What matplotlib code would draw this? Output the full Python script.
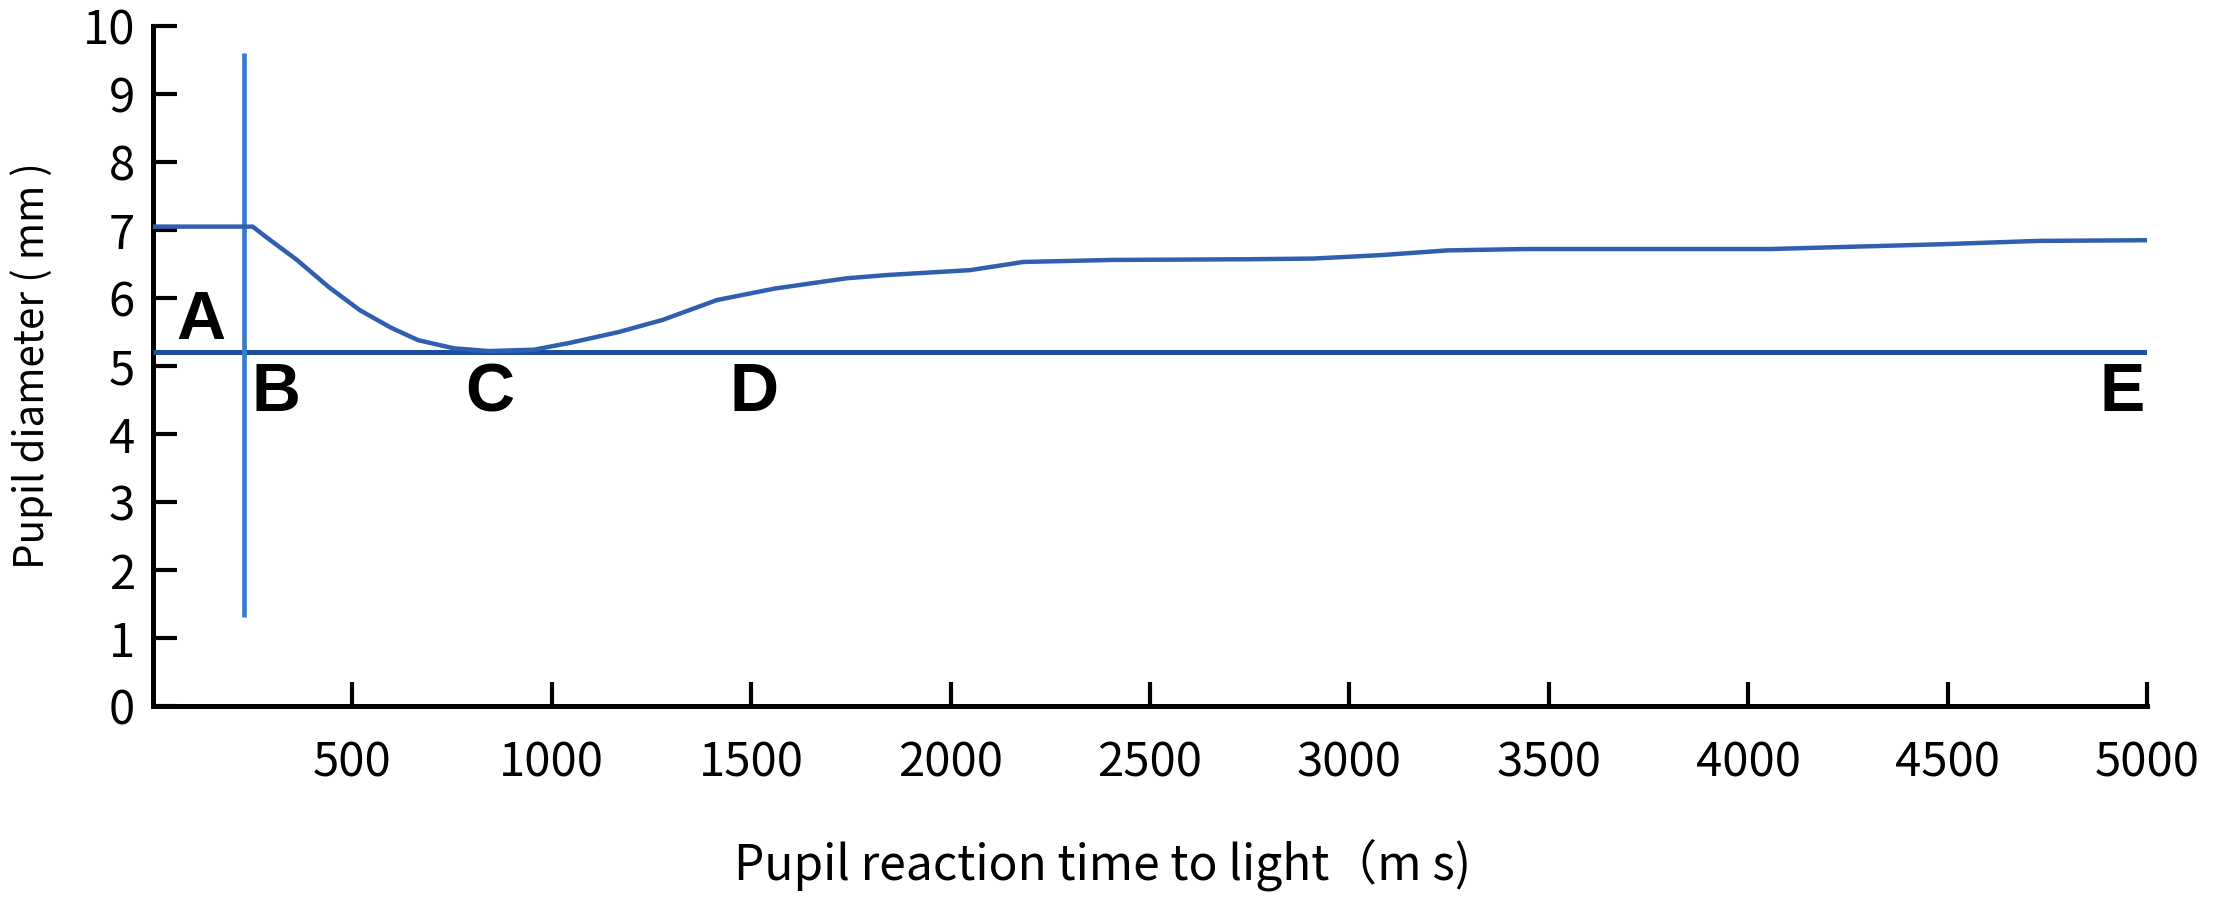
import matplotlib
matplotlib.use("Agg")
import matplotlib.pyplot as plt

# ---- data ----
time_ms = [0, 100, 200, 250, 283, 361, 441, 519, 598, 665, 755, 843, 955, 1045,
           1168, 1279, 1414, 1560, 1739, 1846, 2049, 2182, 2405, 2741, 2909,
           3077, 3245, 3436, 4052, 4235, 4481, 4727, 5000]
diameter_mm = [7.05, 7.05, 7.05, 7.05, 6.90, 6.56, 6.16, 5.82, 5.56, 5.38, 5.26,
               5.22, 5.24, 5.34, 5.50, 5.68, 5.97, 6.14, 6.29, 6.34, 6.41, 6.53,
               6.56, 6.57, 6.58, 6.63, 6.70, 6.72, 6.72, 6.75, 6.79, 6.84, 6.85]

baseline_y = 5.2          # horizontal reference line (minimum diameter)
stim_x = 228              # vertical line (light stimulus onset)
stim_y_range = [1.31, 9.6]

x_ticks = [500, 1000, 1500, 2000, 2500, 3000, 3500, 4000, 4500, 5000]
y_ticks = list(range(0, 11))

point_labels = ["A", "B", "C", "D", "E"]
point_x = [120, 309, 845, 1508, 4937]
point_y = [5.66, 4.6, 4.6, 4.6, 4.6]

xlabel = "Pupil reaction time to light（m s)"
ylabel = "Pupil diameter ( mm )"

# ---- figure ----
plt.rcParams['font.family'] = ['Noto Sans CJK SC', 'DejaVu Sans']
fig = plt.figure(figsize=(22.17, 8.97), dpi=100)
ax = fig.add_axes([0.0690, 0.2129, 0.9684 - 0.0690, 0.9710 - 0.2129])

ax.plot([0, 5000], [baseline_y, baseline_y], color='#1d4f9c', lw=3.6,
        solid_capstyle='butt', zorder=3)
ax.plot([stim_x, stim_x], stim_y_range, color='#3b7bd0', lw=3.4,
        solid_capstyle='butt', zorder=3)
ax.plot(time_ms, diameter_mm, color='#2f5fae', lw=3.2, solid_joinstyle='round',
        zorder=4)

for lab, px, py in zip(point_labels, point_x, point_y):
    ax.text(px, py, lab, ha='center', va='center', fontsize=49,
            fontweight='bold', family='Liberation Sans', color='black', zorder=5)

ax.set_xlim(0, 5000)
ax.set_ylim(0, 10)
ax.set_xticks(x_ticks)
ax.set_yticks(y_ticks)

for s in ['top', 'right']:
    ax.spines[s].set_visible(False)
for s in ['left', 'bottom']:
    ax.spines[s].set_linewidth(3.6)
    ax.spines[s].set_color('black')
    ax.spines[s].set_capstyle('projecting')

ax.tick_params(axis='both', direction='in', length=17, width=3.0,
               colors='black', labelsize=34)
ax.tick_params(axis='y', pad=13)
ax.tick_params(axis='x', pad=24)

ax.set_xlabel(xlabel, fontsize=34.5, labelpad=0)
ax.set_ylabel(ylabel, fontsize=29, labelpad=0)
ax.xaxis.set_label_coords((1103 - 153) / (2147 - 153), -(865 - 706) / 680, transform=ax.transAxes)
ax.yaxis.set_label_coords(-(153 - 32) / (2147 - 153), 0.5, transform=ax.transAxes)
ax.xaxis.label.set_va('center')
ax.yaxis.label.set_va('center')

fig.savefig("out.png", dpi=100, facecolor='white')
